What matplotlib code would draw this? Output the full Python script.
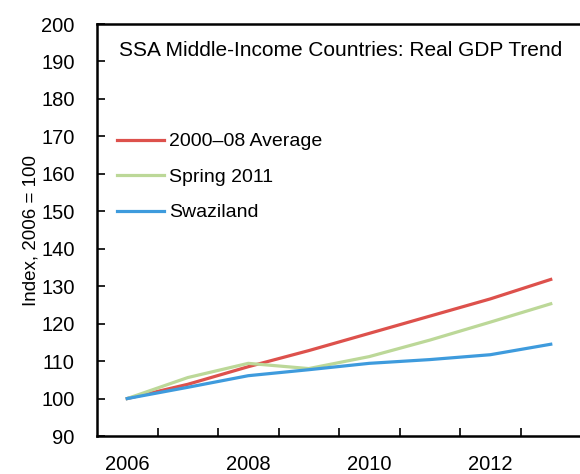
import numpy as np
import matplotlib
matplotlib.use('Agg')
import matplotlib.pyplot as plt
from matplotlib.ticker import FixedLocator, NullFormatter

plt.rcParams['font.family'] = ['Liberation Sans Narrow', 'Liberation Sans', 'DejaVu Sans']

# datos
years = [2006, 2007, 2008, 2009, 2010, 2011, 2012, 2013]
avg_0008 = [100, 103.8, 108.5, 112.8, 117.4, 122.0, 126.6, 131.8]
spring_2011 = [100, 105.6, 109.4, 108.0, 111.2, 115.6, 120.4, 125.3]
swaziland = [100, 103.0, 106.1, 107.7, 109.4, 110.4, 111.7, 114.5]
xlabels = ['2006', '2008', '2010', '2012']

fig = plt.figure(figsize=(5.8, 4.74), dpi=100)
ax = fig.add_axes([97/580, 38/474, 484/580, 412/474])

ax.plot(years, avg_0008, color='#DD514C', linewidth=2.3, label='2000–08 Average')
ax.plot(years, spring_2011, color='#BCD898', linewidth=2.3, label='Spring 2011')
ax.plot(years, swaziland, color='#3E9BDD', linewidth=2.3, label='Swaziland')

ax.set_xlim(2005.5, 2013.5)
ax.set_ylim(90, 200)
ax.set_yticks(np.arange(90, 201, 10))

# ticks entre categorias, etiquetas centradas
ax.xaxis.set_major_locator(FixedLocator(np.arange(2006.5, 2013.0, 1)))
ax.xaxis.set_major_formatter(NullFormatter())
ax.xaxis.set_minor_locator(FixedLocator([int(s) for s in xlabels]))
ax.set_xticklabels(xlabels, minor=True)
ax.tick_params(axis='x', which='major', direction='in', length=6, width=1.2)
ax.tick_params(axis='x', which='minor', length=0, labelsize=14.5, pad=14)
ax.tick_params(axis='y', direction='in', length=6, width=1.2, labelsize=14.5, pad=16)

for s in ['left', 'bottom', 'top']:
    ax.spines[s].set_linewidth(1.8)
ax.spines['right'].set_visible(False)

ax.set_ylabel('Index, 2006 = 100', fontsize=13.5, labelpad=1)
ax.text(0.045, 0.935, 'SSA Middle-Income Countries: Real GDP Trend',
        transform=ax.transAxes, fontsize=15, va='center', ha='left')

ax.legend(loc='upper left', bbox_to_anchor=(0.025, 0.755), frameon=False,
          fontsize=14, handlelength=2.4, handletextpad=0.3, labelspacing=0.92,
          borderaxespad=0)

fig.savefig('out.png', dpi=100)
